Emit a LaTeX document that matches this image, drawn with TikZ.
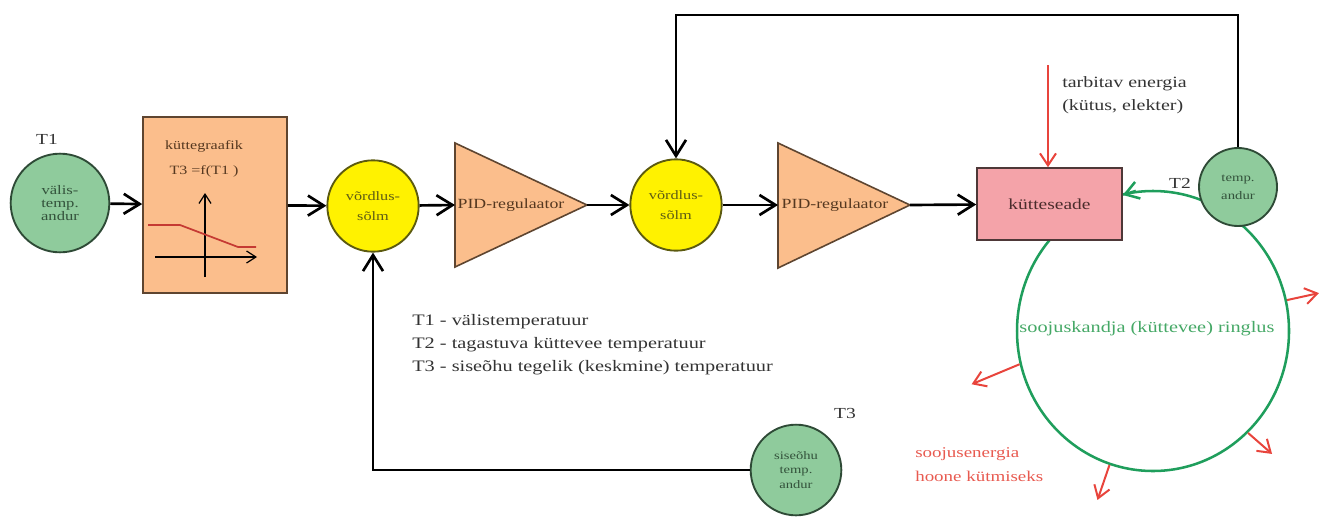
\documentclass[tikz,border=0pt]{standalone}
\usepackage{fontspec}
\setmainfont{Liberation Serif}[FakeStretch=1.27]
\usetikzlibrary{arrows.meta,shapes.geometric}
\definecolor{sfill}{HTML}{8FCB9C}
\definecolor{sline}{HTML}{2E4A36}
\definecolor{stext}{HTML}{33523B}
\definecolor{yfill}{HTML}{FFF200}
\definecolor{yline}{HTML}{5C5A10}
\definecolor{ytext}{HTML}{5E5C14}
\definecolor{ofill}{HTML}{FBBE8C}
\definecolor{oline}{HTML}{5E4530}
\definecolor{otext}{HTML}{553820}
\definecolor{pfill}{HTML}{F4A3A9}
\definecolor{pline}{HTML}{4E3838}
\definecolor{ptext}{HTML}{4A2C2C}
\definecolor{gtext}{HTML}{333333}
\definecolor{ringc}{HTML}{1F9E5C}
\definecolor{ringt}{HTML}{45A866}
\definecolor{redc}{HTML}{E8443C}
\definecolor{redt}{HTML}{E85A50}
\begin{document}
\begin{tikzpicture}[x=0.75pt,y=-0.75pt,
  conn/.style={line width=2pt, draw=black, -{Straight Barb[length=12pt,width=15pt]}},
  sensor/.style={circle, draw=sline, fill=sfill, line width=1.4pt, inner sep=0pt, align=center, text=stext},
  cmp/.style={circle, draw=yline, fill=yfill, line width=1.4pt, inner sep=0pt, align=center, text=ytext, minimum size=68.5pt, font=\fontsize{9.6}{15}\selectfont},
  tri/.style={draw=oline, fill=ofill, line width=1.2pt, line join=miter},
  tritext/.style={text=otext, inner sep=0pt, font=\fontsize{10.5}{12}\selectfont},
  tlabel/.style={text=gtext, inner sep=0pt, font=\fontsize{11.5}{13}\selectfont},
  gtxt/.style={text=gtext, inner sep=0pt, align=left},
  redarrow/.style={line width=1.5pt, draw=redc, -{Straight Barb[length=9pt,width=12pt]}},
  axis/.style={line width=0.9pt, draw=black, -{Straight Barb[length=7pt,width=9pt]}}
]
\useasboundingbox (0,0) rectangle (1327,525);

% heating carrier ring (behind)
\node[ellipse, draw=ringc, line width=1.9pt, minimum width=204pt, minimum height=210pt, inner sep=0pt] (ring) at (1153,331) {};

% sensors
\node[sensor, minimum size=74pt, font=\fontsize{9.8}{10}\selectfont] (t1) at (60,203) {välis-\\temp.\\andur};
\node[tlabel] (t1l) at (47,139) {T1};

% curve box
\node[draw=oline, fill=ofill, line width=1.2pt, minimum width=108pt, minimum height=132pt, inner sep=0pt] (kg) at (215,205) {};
\node[text=otext, inner sep=0pt, align=center, font=\fontsize{9.5}{18.75}\selectfont] (kgt) at (204,159) {küttegraafik\\T3 =f(T1 )};
\draw[axis] (205,277) -- (205,193);
\draw[axis] (155,257) -- (257,257);
\draw[line width=1.3pt, draw=redc!85!black] (148,225) -- (180,225) -- (238,247) -- (256,247);

% comparators
\node[cmp] (v1) at (373,206) {võrdlus-\\sõlm};
\node[cmp] (v2) at (676,205) {võrdlus-\\sõlm};

% PID triangles
\draw[tri] (455,143) -- (587,205) -- (455,267) -- cycle;
\coordinate (p1in) at (455,205);
\coordinate (p1out) at (587,205);
\node[tritext] (p1t) at (511,205) {PID-regulaator};
\draw[tri] (778,143) -- (910,205) -- (778,268) -- cycle;
\coordinate (p2in) at (778,205);
\coordinate (p2out) at (910,205);
\node[tritext] (p2t) at (835,205) {PID-regulaator};

% heater
\node[draw=pline, fill=pfill, line width=1.2pt, minimum width=108.75pt, minimum height=54pt, inner sep=0pt, text=ptext, font=\fontsize{11.5}{13}\selectfont] (kb) at (1049.5,204) {kütteseade};

% T2 sensor
\node[sensor, minimum size=58.5pt, font=\fontsize{8.7}{13.5}\selectfont] (t2) at (1238,187) {temp.\\andur};
\node[tlabel] (t2l) at (1180,183) {T2};

% T3 sensor
\node[sensor, minimum size=68pt, font=\fontsize{8.6}{11}\selectfont] (t3) at (796,470) {siseõhu\\temp.\\andur};
\node[tlabel] (t3l) at (845,413) {T3};

% main chain connectors
\draw[conn] (t1) -- (kg);
\draw[conn] (kg) -- (v1);
\draw[conn] (v1) -- (p1in);
\draw[conn] (p1out) -- (v2);
\draw[conn] (v2) -- (p2in);
\draw[conn] (p2out) -- (kb);

% feedback loops
\draw[conn] (t2.north) |- (676,15) -| (v2.north);
\draw[conn] (t3.west) -| (v1.south);

% energy input
\coordinate (ein) at (1048,65);
\draw[redarrow] (ein) -- (kb.north -| ein);
\node[gtxt, anchor=west, font=\fontsize{11.8}{17.25}\selectfont] (etxt) at (1062,95) {tarbitav energia\\(kütus, elekter)};

% ring return arrow into heater
\draw[line width=1.9pt, draw=ringc, -{Straight Barb[length=10pt,width=13pt]}] (ring.97) -- ([yshift=6.75pt]kb.east);

% ring label and heat outputs
\node[text=ringt, inner sep=0pt, font=\fontsize{12}{14}\selectfont] (ringtxt) at (1147,329) {soojuskandja (küttevee) ringlus};
\draw[redarrow] (ring.13) -- ++(32,-7);
\draw[redarrow] (ring.194) -- ++(-48,20);
\draw[redarrow] (ring.313) -- ++(24,21);
\draw[redarrow] (ring.252) -- ++(-12,35);
\node[text=redt, inner sep=0pt, align=left, anchor=west, font=\fontsize{11.2}{18}\selectfont] (heat) at (915,465) {soojusenergia\\hoone kütmiseks};

% legend
\node[gtxt, anchor=west, font=\fontsize{12}{17.25}\selectfont] (legend) at (412,345) {T1 - välistemperatuur\\T2 - tagastuva küttevee temperatuur\\T3 - siseõhu tegelik (keskmine) temperatuur};
\end{tikzpicture}
\end{document}
